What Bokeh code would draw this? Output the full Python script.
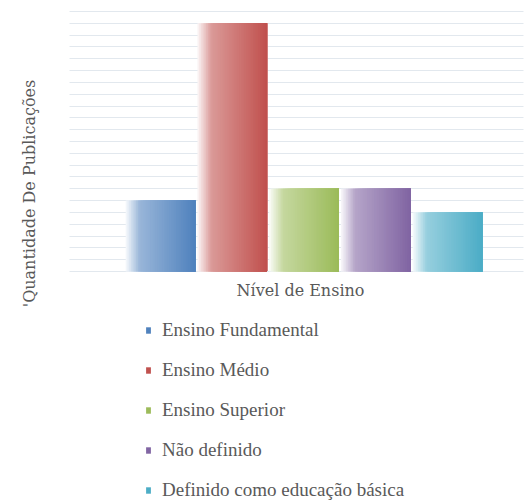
import math
from bokeh.plotting import figure
from bokeh.models import (ColumnDataSource, Range1d, SingleIntervalTicker, Label,
                          Legend, LegendItem)
from bokeh.embed import file_html
from bokeh.resources import INLINE

# ---- data ----
series = ["Ensino Fundamental", "Ensino Médio", "Ensino Superior",
          "Não definido", "Definido como educação básica"]
values = [6, 21, 7, 7, 5]
colors = ["#4F81BD", "#C0504D", "#9BBB59", "#8064A2", "#4BACC6"]
x_title = "Nível de Ensino"
y_title = "'Quantidade De Publicações"
y_max = 22

# ---- layout (pixels) ----
W, H = 529, 500
PLOT_L, PLOT_R = 69, 523          # plotting area
PLOT_T, PLOT_B = 11, 271
FIRST_BAR_PX = 160                # centre of first bar
BAR_PITCH_PX = 71.75
BAR_W = 0.97
N_STRIPS = 40
TEXT_COLOR = "#595959"
TITLE_FONT = "DejaVu Serif"
LEGEND_FONT = "Liberation Serif"

# derived data ranges so that the whole canvas is the frame
px_per_y = (PLOT_B - PLOT_T) / y_max
y_start = -(H - PLOT_B) / px_per_y
y_end = y_max + PLOT_T / px_per_y
x_start = -FIRST_BAR_PX / BAR_PITCH_PX
x_end = x_start + W / BAR_PITCH_PX
grid_x0 = x_start + PLOT_L / BAR_PITCH_PX
grid_x1 = x_start + PLOT_R / BAR_PITCH_PX


def mix(hex_color, f):
    h = hex_color.lstrip("#")
    r, g, b = (int(h[i:i + 2], 16) for i in (0, 2, 4))
    r = round(255 - (255 - r) * f)
    g = round(255 - (255 - g) * f)
    b = round(255 - (255 - b) * f)
    return "#%02x%02x%02x" % (r, g, b)


def shade(t):
    # soft fade on the left edge, then a linear gradient light -> full colour
    if t < 0.2:
        return 0.04 + (0.58 - 0.04) * (t / 0.2)
    return 0.58 + 0.42 * (t - 0.2) / 0.8


p = figure(width=W, height=H, output_backend="svg", toolbar_location=None,
           x_range=Range1d(x_start, x_end), y_range=Range1d(y_start, y_end),
           min_border=0)
p.outline_line_color = None
p.background_fill_color = "white"
p.xaxis.visible = False
p.yaxis.visible = False
p.xgrid.visible = False
p.ygrid.ticker = SingleIntervalTicker(interval=1, num_minor_ticks=0)
p.ygrid.bounds = (-0.5, y_max + 0.5)
p.ygrid.cross_bounds = (grid_x0, grid_x1)
p.ygrid.grid_line_color = "#e2e8ee"
p.ygrid.grid_line_width = 1

items = []
for i, (name, val, col) in enumerate(zip(series, values, colors)):
    left = i - BAR_W / 2
    right = i + BAR_W / 2
    lefts, rights, tops, cs = [], [], [], []
    for k in range(N_STRIPS):
        t = (k + 0.5) / N_STRIPS
        lefts.append(left + k * BAR_W / N_STRIPS)
        rights.append(right)
        tops.append(val)
        cs.append(mix(col, shade(t)))
    src = ColumnDataSource(dict(left=lefts, right=rights, top=tops, c=cs))
    r = p.quad(left="left", right="right", top="top", bottom=0, fill_color="c",
               line_color=None, source=src)
    items.append(LegendItem(label=name, renderers=[r], index=N_STRIPS - 1))

legend = Legend(items=items, location=(145, -1), orientation="vertical",
                background_fill_alpha=0, border_line_color=None,
                padding=0, margin=0, spacing=18, label_height=20,
                glyph_width=6, glyph_height=8, label_standoff=11,
                label_text_font=LEGEND_FONT, label_text_font_size="19px",
                label_text_color=TEXT_COLOR)
p.add_layout(legend, "center")

p.add_layout(Label(x=300, y=H - 289.5, x_units="screen", y_units="screen",
                   text=x_title, text_align="center", text_baseline="middle",
                   text_font=TITLE_FONT, text_font_size="16px",
                   text_color=TEXT_COLOR))
p.add_layout(Label(x=28.5, y=H - 193, x_units="screen", y_units="screen",
                   text=y_title, angle=math.pi / 2, text_align="center",
                   text_baseline="middle", text_font=TITLE_FONT,
                   text_font_size="16px", text_color=TEXT_COLOR))

open("out.html", "w").write(file_html(p, INLINE))
